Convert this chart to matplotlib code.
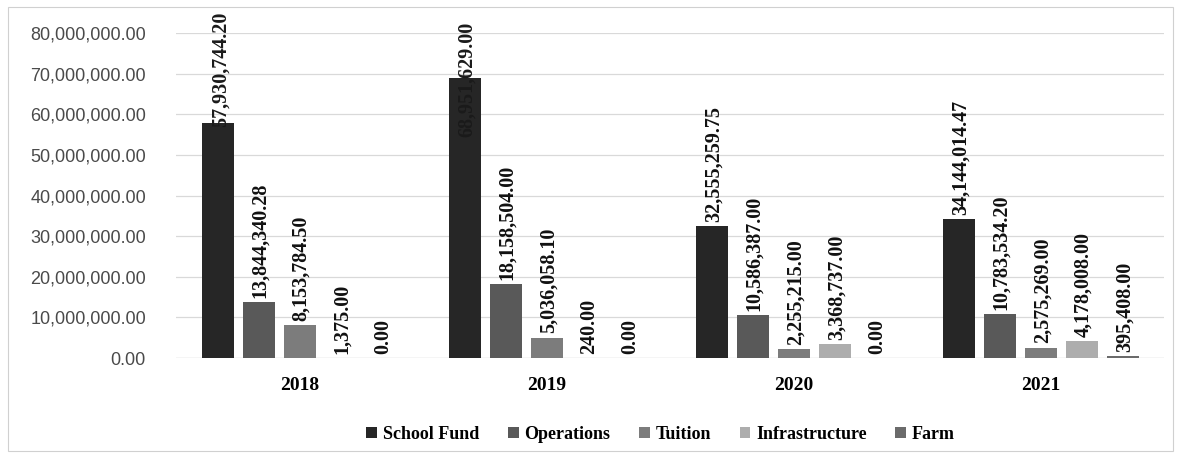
import numpy as np
import matplotlib
matplotlib.use('Agg')
import matplotlib.pyplot as plt
from matplotlib.patches import Rectangle
from matplotlib.ticker import FuncFormatter

# Data
years = ['2018', '2019', '2020', '2021']
series = ['School Fund', 'Operations', 'Tuition', 'Infrastructure', 'Farm']
school_fund = [57930744.20, 68951629.00, 32555259.75, 34144014.47]
operations = [13844340.28, 18158504.00, 10586387.00, 10783534.20]
tuition = [8153784.50, 5036058.10, 2255215.00, 2575269.00]
infrastructure = [1375.00, 240.00, 3368737.00, 4178008.00]
farm = [0.00, 0.00, 0.00, 395408.00]

values = [school_fund, operations, tuition, infrastructure, farm]
colors = ['#262626', '#595959', '#7c7c7c', '#adadad', '#6b6b6b']

fig = plt.figure(figsize=(11.81, 4.58), dpi=100)
ax = fig.add_axes([0.1494, 0.2183, 0.8366, 0.7096])

# outer chart border
fig.patches.append(Rectangle((0.007, 0.015), 0.986, 0.97, transform=fig.transFigure,
                             fill=False, edgecolor='#d0d0d0', linewidth=0.8))

x = np.arange(len(years))
width = 0.13
step = 0.166
serif = 'Liberation Serif'

for i, (name, vals, c) in enumerate(zip(series, values, colors)):
    xs = x + (i - 2) * step
    ax.bar(xs, vals, width, color=c, label=name, zorder=3)
    for xi, v in zip(xs, vals):
        txt = f'{v:,.2f}'
        if v > 50e6:
            # label pushed down to stay inside the chart area, overlapping the bar
            top = 1.067 if v < 60e6 else 1.035
            ax.text(xi + 0.01, top, txt, rotation=90, ha='center', va='top',
                    transform=ax.get_xaxis_transform(), fontsize=14.5,
                    fontweight='bold', family=serif, color='#1a1a1a', zorder=4)
        else:
            ax.annotate(txt, (xi, v), xytext=(1, 3), textcoords='offset points',
                        rotation=90, ha='center', va='bottom', fontsize=14.5,
                        fontweight='bold', family=serif, color='#111111', zorder=4)

ax.set_xlim(-0.5, 3.5)
ax.set_ylim(0, 80e6)
ax.set_yticks(np.arange(0, 80e6 + 1, 10e6))
ax.yaxis.set_major_formatter(FuncFormatter(lambda v, p: f'{v:,.2f}'))
ax.set_xticks(x)
ax.set_xticklabels(years, fontsize=14, fontweight='bold', family=serif)
ax.tick_params(axis='y', labelsize=13, labelcolor='#4a4a4a', length=0, pad=22)
ax.tick_params(axis='x', length=0, pad=14)
for lab in ax.get_yticklabels():
    lab.set_family('Liberation Sans')

ax.grid(axis='y', color='#d9d9d9', linewidth=0.9, zorder=0)
for s in ax.spines.values():
    s.set_visible(False)
ax.axhline(0, color='#d9d9d9', linewidth=0.9, zorder=1)

ax.legend(loc='center', bbox_to_anchor=(0.49, -0.235), ncol=5, frameon=False,
          prop={'family': serif, 'weight': 'bold', 'size': 13},
          handlelength=0.6, handleheight=0.6, handletextpad=0.3, columnspacing=1.6)

fig.savefig('out.png', dpi=100)
